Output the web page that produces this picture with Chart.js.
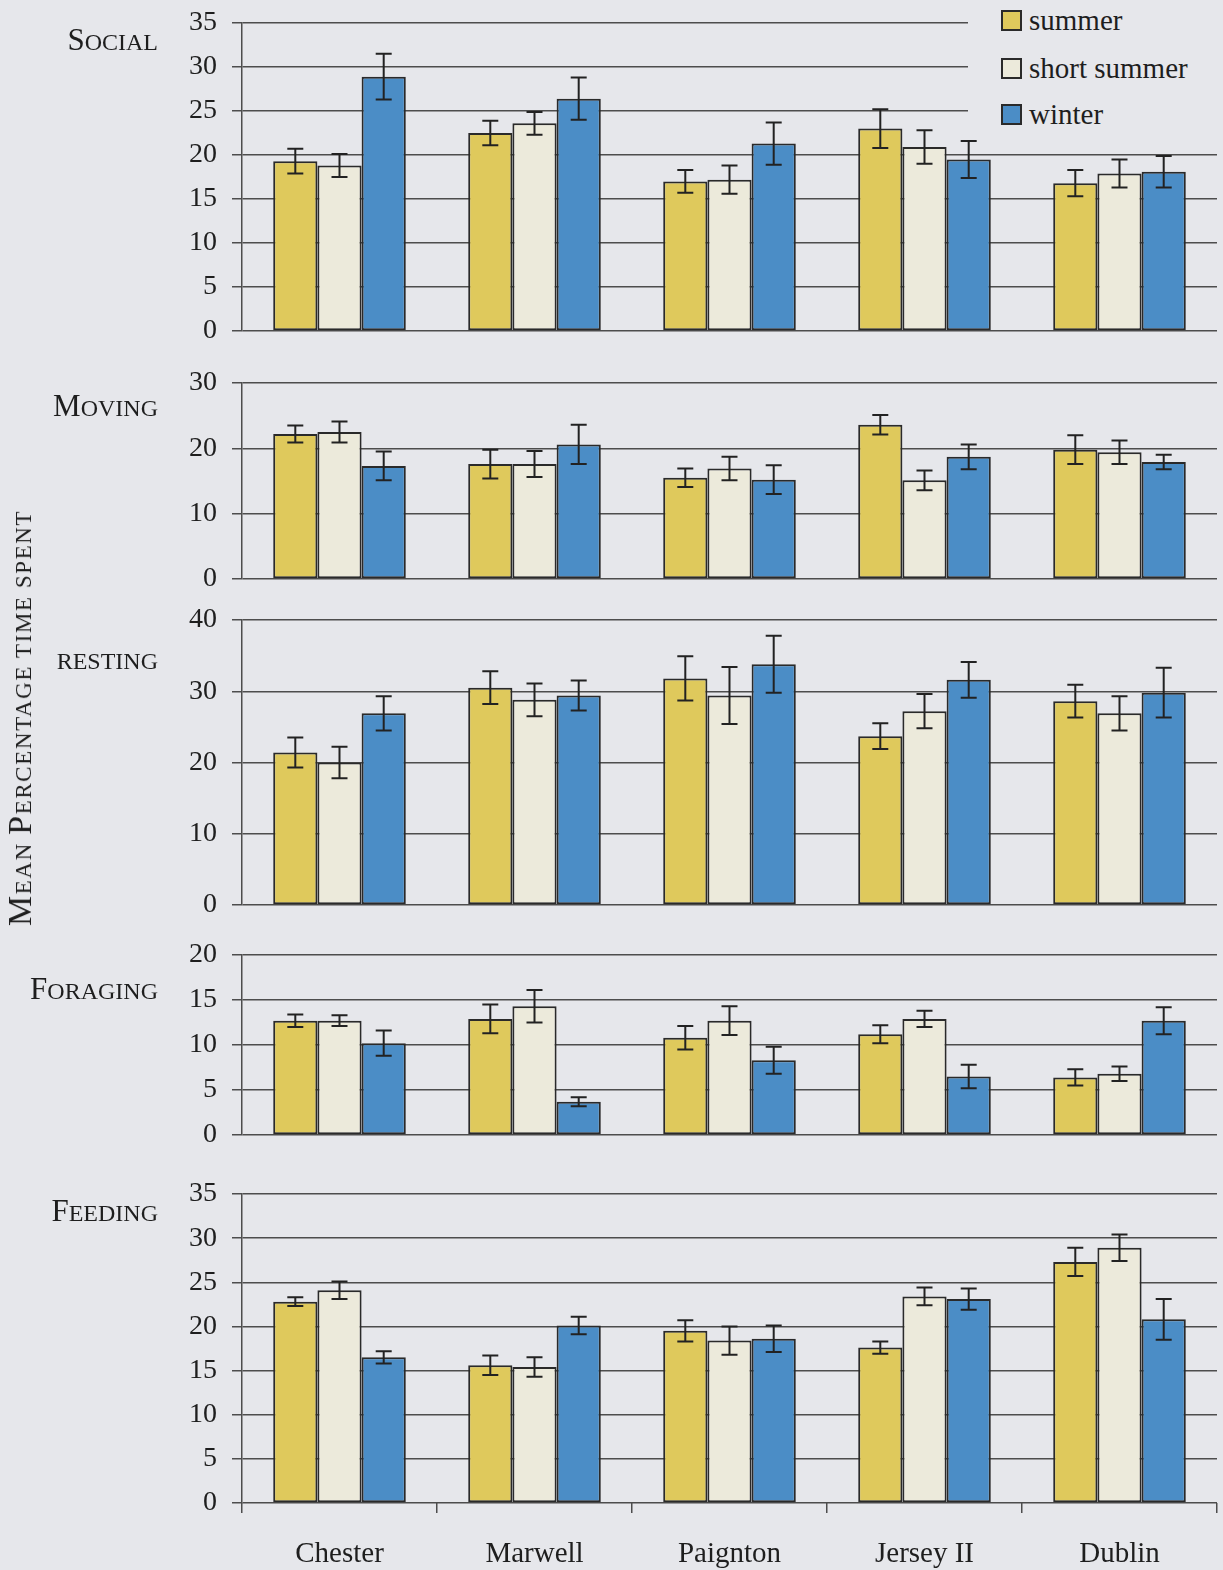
<!DOCTYPE html>
<html><head><meta charset="utf-8">
<script src="https://cdn.jsdelivr.net/npm/chart.js@4.4.1/dist/chart.umd.min.js"></script>
<style>
html,body{margin:0;padding:0;background:#e6e7eb;}
body{width:1223px;height:1570px;position:relative;overflow:hidden;font-family:"Liberation Serif","Times New Roman",serif;color:#1e1e1e;}
.panel{position:absolute;left:0;width:1223px;}
.plabel{position:absolute;right:1065px;white-space:nowrap;line-height:1;transform:translateY(-50%);}
.big{font-size:31px;}
.sm{font-size:24px;}
#ytitle{position:absolute;left:20px;top:718px;transform:translate(-50%,-50%) rotate(-90deg);white-space:nowrap;line-height:1;letter-spacing:1.6px;}
#ytitle .b{font-size:34px;}
#ytitle .s{font-size:23px;}
#legend{position:absolute;left:968px;top:0;width:255px;height:137px;background:#e6e7eb;}
.li{position:absolute;left:33px;height:30px;display:flex;align-items:center;font-size:29px;transform:translateY(-50%);}
.sw{width:17px;height:17px;border:2px solid #2a2a2a;margin-right:7px;}
</style></head>
<body>
<script>
const categories = ['Chester','Marwell','Paignton','Jersey II','Dublin'];
const seriesNames = ['summer','short summer','winter'];

const socialSummer = [19.3, 22.5, 17.0, 23.0, 16.8];
const socialSummerErr = [1.4, 1.4, 1.3, 2.2, 1.5];
const socialShort = [18.8, 23.6, 17.2, 20.9, 17.9];
const socialShortErr = [1.3, 1.3, 1.6, 1.9, 1.6];
const socialWinter = [28.9, 26.4, 21.3, 19.5, 18.1];
const socialWinterErr = [2.6, 2.4, 2.4, 2.1, 1.8];

const movingSummer = [22.2, 17.6, 15.5, 23.6, 19.8];
const movingSummerErr = [1.3, 2.2, 1.4, 1.5, 2.2];
const movingShort = [22.5, 17.6, 16.9, 15.1, 19.4];
const movingShortErr = [1.6, 2.0, 1.8, 1.5, 1.8];
const movingWinter = [17.3, 20.6, 15.2, 18.7, 17.9];
const movingWinterErr = [2.2, 3.0, 2.2, 1.9, 1.1];

const restingSummer = [21.4, 30.5, 31.8, 23.7, 28.6];
const restingSummerErr = [2.1, 2.3, 3.1, 1.8, 2.3];
const restingShort = [20.0, 28.8, 29.4, 27.2, 26.9];
const restingShortErr = [2.2, 2.3, 4.0, 2.4, 2.4];
const restingWinter = [26.9, 29.4, 33.8, 31.6, 29.8];
const restingWinterErr = [2.4, 2.1, 4.0, 2.5, 3.5];

const foragingSummer = [12.7, 12.9, 10.8, 11.2, 6.4];
const foragingSummerErr = [0.7, 1.6, 1.3, 1.0, 0.9];
const foragingShort = [12.7, 14.3, 12.7, 12.9, 6.8];
const foragingShortErr = [0.6, 1.8, 1.6, 0.9, 0.8];
const foragingWinter = [10.2, 3.7, 8.3, 6.5, 12.7];
const foragingWinterErr = [1.4, 0.5, 1.5, 1.3, 1.5];

const feedingSummer = [22.8, 15.6, 19.5, 17.6, 27.3];
const feedingSummerErr = [0.5, 1.1, 1.2, 0.7, 1.6];
const feedingShort = [24.1, 15.4, 18.4, 23.4, 28.9];
const feedingShortErr = [1.0, 1.1, 1.6, 1.0, 1.5];
const feedingWinter = [16.5, 20.1, 18.6, 23.1, 20.8];
const feedingWinterErr = [0.7, 1.0, 1.5, 1.2, 2.3];

const socialTicks = {max: 35, step: 5};
const movingTicks = {max: 30, step: 10};
const restingTicks = {max: 40, step: 10};
const foragingTicks = {max: 20, step: 5};
const feedingTicks = {max: 35, step: 5};

const colors = ['#dfc95c', '#eceadb', '#4b8dc6'];
const FONT = '"Liberation Serif","Times New Roman",serif';
const INK = '#1e1e1e';
const GRID = '#4d4d4d';
const PAD = 40;

const errorBars = {
  id: 'errorBars',
  afterDatasetsDraw(chart) {
    const ctx = chart.ctx, y = chart.scales.y;
    chart.data.datasets.forEach((ds, i) => {
      const meta = chart.getDatasetMeta(i);
      meta.data.forEach((bar, j) => {
        const v = ds.data[j], e = ds.errors[j];
        const yt = y.getPixelForValue(v + e), yb = y.getPixelForValue(v - e);
        ctx.save();
        ctx.strokeStyle = '#222';
        ctx.lineWidth = 2;
        ctx.beginPath();
        ctx.moveTo(bar.x, yt); ctx.lineTo(bar.x, yb);
        ctx.moveTo(bar.x - 8, yt); ctx.lineTo(bar.x + 8, yt);
        ctx.moveTo(bar.x - 8, yb); ctx.lineTo(bar.x + 8, yb);
        ctx.stroke();
        ctx.restore();
      });
    });
  }
};

function addLabel(first, rest, cy, allSmall) {
  const d = document.createElement('div');
  d.className = 'plabel';
  d.style.top = cy + 'px';
  if (allSmall) {
    d.innerHTML = '<span class="sm">' + first + rest + '</span>';
  } else {
    d.innerHTML = '<span class="big">' + first + '</span><span class="sm">' + rest + '</span>';
  }
  document.body.appendChild(d);
}

function makePanel(areaTop, areaBottom, ticks, vals, errs, isBottom) {
  const top = areaTop - PAD;
  const height = isBottom ? (1570 - top) : (areaBottom - areaTop + 2 * PAD);
  const div = document.createElement('div');
  div.className = 'panel';
  div.style.top = top + 'px';
  div.style.height = height + 'px';
  const cv = document.createElement('canvas');
  cv.width = 1223; cv.height = height;
  cv.style.width = '1223px'; cv.style.height = height + 'px';
  div.appendChild(cv);
  document.body.appendChild(div);
  const datasets = vals.map((v, i) => ({
    label: seriesNames[i],
    data: v,
    errors: errs[i],
    backgroundColor: colors[i],
    borderColor: '#2a2a2a',
    borderWidth: 2,
    borderSkipped: false,
    categoryPercentage: 0.68,
    barPercentage: 1.0
  }));
  const xScale = {
    type: 'category',
    display: isBottom,
    offset: true,
    grid: {display: true, drawOnChartArea: false, drawTicks: true, tickLength: 10, color: GRID, lineWidth: 1.5, offset: true},
    border: {display: false},
    ticks: {font: {family: FONT, size: 29}, color: INK, padding: 24, maxRotation: 0, autoSkip: false}
  };
  if (isBottom) xScale.afterFit = s => { s.height = 67; };
  new Chart(cv, {
    type: 'bar',
    data: {labels: categories, datasets},
    options: {
      responsive: false,
      animation: false,
      devicePixelRatio: 1,
      layout: {padding: {top: PAD, bottom: isBottom ? 0 : PAD, left: 0, right: 6}},
      plugins: {legend: {display: false}, tooltip: {enabled: false}},
      scales: {
        x: xScale,
        y: {
          min: 0, max: ticks.max,
          ticks: {stepSize: ticks.step, font: {family: FONT, size: 28}, color: INK, padding: 15, autoSkip: false},
          grid: {color: GRID, lineWidth: 1.5, tickLength: 10},
          border: {display: true, color: GRID, width: 1.5},
          afterFit: s => { s.width = 242; }
        }
      }
    },
    plugins: [errorBars]
  });
}

makePanel(23, 331, socialTicks,
  [socialSummer, socialShort, socialWinter],
  [socialSummerErr, socialShortErr, socialWinterErr], false);
makePanel(383, 579, movingTicks,
  [movingSummer, movingShort, movingWinter],
  [movingSummerErr, movingShortErr, movingWinterErr], false);
makePanel(620, 905, restingTicks,
  [restingSummer, restingShort, restingWinter],
  [restingSummerErr, restingShortErr, restingWinterErr], false);
makePanel(955, 1135, foragingTicks,
  [foragingSummer, foragingShort, foragingWinter],
  [foragingSummerErr, foragingShortErr, foragingWinterErr], false);
makePanel(1194, 1503, feedingTicks,
  [feedingSummer, feedingShort, feedingWinter],
  [feedingSummerErr, feedingShortErr, feedingWinterErr], true);

addLabel('S', 'OCIAL', 39, false);
addLabel('M', 'OVING', 405, false);
addLabel('R', 'ESTING', 661, true);
addLabel('F', 'ORAGING', 988, false);
addLabel('F', 'EEDING', 1210, false);

const yt = document.createElement('div');
yt.id = 'ytitle';
yt.innerHTML = '<span class="b">M</span><span class="s">EAN </span><span class="b">P</span><span class="s">ERCENTAGE TIME SPENT</span>';
document.body.appendChild(yt);

const lg = document.createElement('div');
lg.id = 'legend';
const rowsY = [20, 68, 114];
seriesNames.forEach((n, i) => {
  const it = document.createElement('div');
  it.className = 'li';
  it.style.top = rowsY[i] + 'px';
  it.innerHTML = '<span class="sw" style="background:' + colors[i] + '"></span><span>' + n + '</span>';
  lg.appendChild(it);
});
document.body.appendChild(lg);
</script>
</body></html>
